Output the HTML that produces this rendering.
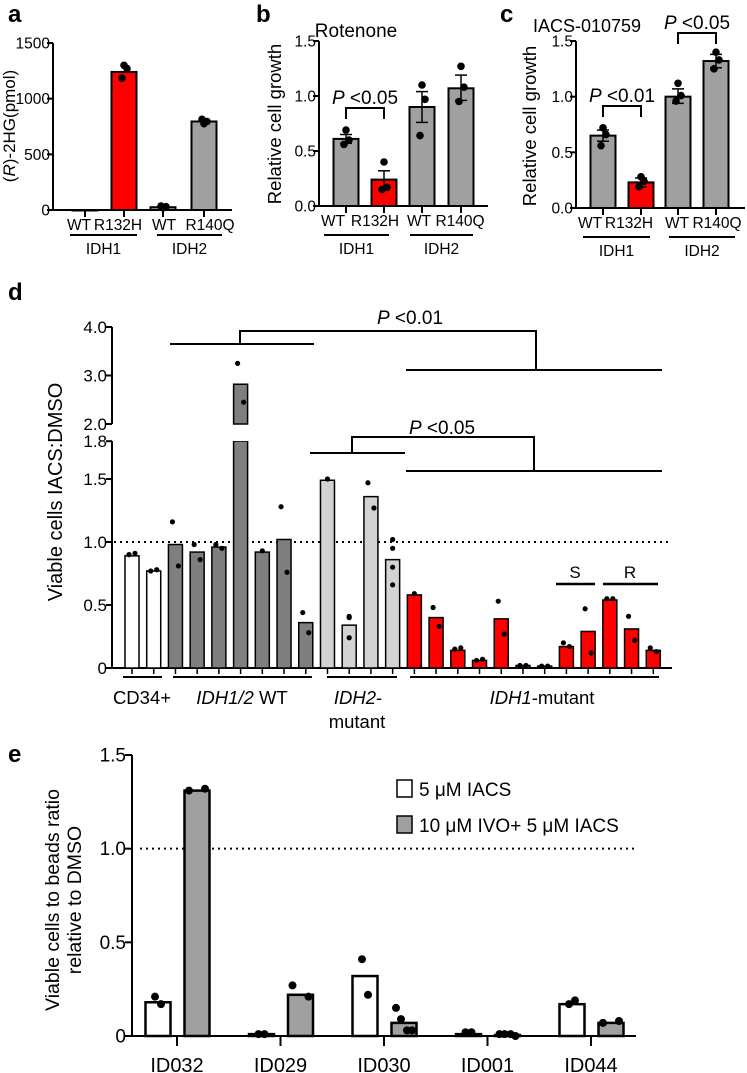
<!DOCTYPE html>
<html><head><meta charset="utf-8">
<style>
html,body{margin:0;padding:0;background:#fff;}
svg{display:block;}
text{font-family:"Liberation Sans",sans-serif;fill:#000;}
</style></head>
<body>
<svg id="fig" width="747" height="1073" viewBox="0 0 747 1073" xmlns="http://www.w3.org/2000/svg">
<text x="8" y="22" style="font-size:24px;font-weight:bold">a</text>
<text x="256" y="22" style="font-size:24px;font-weight:bold">b</text>
<text x="500" y="22" style="font-size:24px;font-weight:bold">c</text>
<text x="8" y="300" style="font-size:24px;font-weight:bold">d</text>
<text x="8" y="762" style="font-size:24px;font-weight:bold">e</text>
</svg>
<script>
// ---------- Panel a ----------
const aCats = ["WT","R132H","WT","R140Q"];
const aValues = [0, 1240, 25, 795];
const aDots = [[], [1300, 1270, 1185], [20, 30, 35], [775, 795, 815]];
const aTicks = [0, 500, 1000, 1500];
// ---------- Panel b ----------
const bCats = ["WT","R132H","WT","R140Q"];
const bValues = [0.61, 0.24, 0.90, 1.07];
const bErrLo = [0.57, 0.15, 0.76, 0.96];
const bErrHi = [0.65, 0.32, 1.04, 1.19];
const bDots = [[0.69, 0.60, 0.56], [0.40, 0.17, 0.15], [1.10, 0.97, 0.64], [1.27, 1.08, 0.95]];
const bTicks = [0.0, 0.5, 1.0, 1.5];
// ---------- Panel c ----------
const cCats = ["WT","R132H","WT","R140Q"];
const cValues = [0.65, 0.23, 1.00, 1.32];
const cErrLo = [0.60, 0.19, 0.94, 1.26];
const cErrHi = [0.70, 0.27, 1.07, 1.38];
const cDots = [[0.72, 0.66, 0.56], [0.28, 0.24, 0.19], [1.12, 1.01, 0.96], [1.40, 1.33, 1.25]];
const cTicks = [0.0, 0.5, 1.0, 1.5];
// ---------- Panel d ----------
const dGroups = ["cd34","cd34","wt","wt","wt","wt","wt","wt","wt","idh2","idh2","idh2","idh2",
  "idh1","idh1","idh1","idh1","idh1","idh1","idh1","idh1","idh1","idh1","idh1","idh1"];
const dValues = [0.89,0.77,0.98,0.92,0.96,2.82,0.92,1.02,0.36,1.49,0.34,1.36,0.86,
  0.58,0.40,0.14,0.06,0.39,0.02,0.015,0.17,0.29,0.54,0.31,0.14];
const dDots = [[0.90,0.91],[0.77,0.78],[1.16,0.81],[0.98,0.86],[0.98,0.95],[3.25,2.45],[0.93],[1.28,0.76],[0.44,0.28],
  [1.50],[0.41,0.40,0.24],[1.47,1.27],[1.02,0.95,0.80,0.66],
  [0.59],[0.48,0.33],[0.15,0.16],[0.06,0.07],[0.53,0.27],[0.02,0.02],[0.015,0.015],[0.20,0.17],[0.47,0.12],[0.55,0.55],[0.41,0.22],[0.16,0.13]];
const dTicksLow = [0, 0.5, 1.0, 1.5, 1.8];
const dTickLowLabels = ["0","0.5","1.0","1.5","1.8"];
const dTicksHigh = [2.0, 3.0, 4.0];
const dTickHighLabels = ["2.0","3.0","4.0"];
// ---------- Panel e ----------
const eCats = ["ID032","ID029","ID030","ID001","ID044"];
const eIacs = [0.18, 0.01, 0.32, 0.01, 0.17];
const eCombo = [1.31, 0.22, 0.07, 0.005, 0.07];
const eIacsDots = [[0.21,0.17],[0.01,0.01],[0.41,0.22],[0.02,0.02],[0.17,0.19]];
const eComboDots = [[1.31,1.32],[0.27,0.21],[0.15,0.09,0.03,0.03],[0.01,0.01,0.01,0.0],[0.07,0.08]];
const eTicks = [0, 0.5, 1.0, 1.5];
const eTickLabels = ["0","0.5","1.0","1.5"];

const NS = "http://www.w3.org/2000/svg";
const svg = document.getElementById('fig');
function mk(tag, attrs){
  const e = document.createElementNS(NS, tag);
  for (const k in attrs) e.setAttribute(k, attrs[k]);
  svg.appendChild(e);
  return e;
}
function line(x1,y1,x2,y2,w,dash){
  const a = {x1:x1,y1:y1,x2:x2,y2:y2,stroke:'#000','stroke-width':w||2};
  if (dash) a['stroke-dasharray'] = dash;
  return mk('line', a);
}
function txt(x,y,s,size,anchor){
  const t = mk('text',{x:x,y:y,'text-anchor':anchor||'middle',style:'font-size:'+size+'px'});
  t.textContent = s;
  return t;
}
function rtxt(x,y,html,size){
  const t = mk('text',{x:0,y:0,'text-anchor':'middle',style:'font-size:'+size+'px',transform:`translate(${x},${y}) rotate(-90)`});
  t.innerHTML = html;
  return t;
}

function smallPanel(name, cats, vals, dots, ticks, tickFmt, ax, y0, ytop, vmax, centers, labelOff, colors, eLo, eHi, xEnd){
  const ys = v => y0 - v / vmax * (y0 - ytop);
  let e = line(ax, ytop, ax, y0+1);
  
  
  e = line(ax, y0, xEnd, y0);
  
  
  ticks.forEach(t => {
    const l = line(ax-6, ys(t), ax, ys(t));
    
    
    const tt = txt(ax-3, ys(t)+5.5, tickFmt(t), 15.5, 'end');
    
    
  });
  vals.forEach((v,i) => {
    const cx = centers[i];
    const h = Math.max(y0 - ys(v), 0.5);
    const r = mk('rect',{x:cx-12.5,y:ys(v),width:25,height:h,fill:colors[i],stroke:'#000','stroke-width':2});
    
    
    const tk = line(cx, y0, cx, y0+7);
    
    
    const lb = txt(cx+labelOff[i], y0+20, cats[i], 15.5);
    
    
    if (eLo) {
      const eb = line(cx, ys(eLo[i]), cx, ys(eHi[i]), 1.5);
      
      
      [eLo[i], eHi[i]].forEach(q => {
        const c = line(cx-6, ys(q), cx+6, ys(q), 1.5);
        
        
      });
    }
    dots[i].forEach((d,j) => {
      const off = dots[i].length === 3 ? [0,3,-2][j] : [-4,4][j] || 0;
      const p = mk('circle',{cx:cx+off,cy:ys(d),r:3.8,fill:'#000'});
      
      
    });
  });
  return ys;
}
function groupLabels(name, x1a, x2a, x1b, x2b, yl, yt){
  let e = line(x1a, yl, x2a, yl, 2);
  
  
  e = line(x1b, yl, x2b, yl, 2);
  
  
  e = txt((x1a+x2a)/2, yt, 'IDH1', 15.5);
  
  
  e = txt((x1b+x2b)/2, yt, 'IDH2', 15.5);
  
  
}
function bracket(name, x1, x2, ytop, ybot, label, ty){
  const p = mk('path',{d:`M${x1},${ybot} V${ytop} H${x2} V${ybot}`,fill:'none',stroke:'#000','stroke-width':2});
  
  
  const t = mk('text',{x:(x1+x2)/2,y:ty,'text-anchor':'middle',style:'font-size:19px'});
  t.innerHTML = '<tspan font-style="italic">P</tspan> &lt;' + label;
  
  
}

// Panel a
smallPanel('panel-a', aCats, aValues, aDots, aTicks, t=>String(t), 53, 210, 43, 1500, [85,124,163,204], [-6,-6,1,6],
  ['#ffffff','#ff0000','#a0a0a0','#a0a0a0'], null, null, 232);
groupLabels('panel-a', 70, 137, 157, 222, 235, 254);
let yl = rtxt(15, 126, '(<tspan font-style="italic">R</tspan>)-2HG(pmol)', 17);



// Panel b
smallPanel('panel-b', bCats, bValues, bDots, bTicks, t=>t.toFixed(1), 319, 206, 41, 1.5, [346,384,422,461], [-13,-9,-3,-1],
  ['#a0a0a0','#ff0000','#a0a0a0','#a0a0a0'], bErrLo, bErrHi, 488);
groupLabels('panel-b', 324, 389, 410, 473, 235, 254);
bracket('panel-b', 346, 384, 108, 119, '0.05', 104);
yl = rtxt(281, 124, 'Relative cell growth', 18.5);


yl = txt(356, 37, 'Rotenone', 19);



// Panel c
smallPanel('panel-c', cCats, cValues, cDots, cTicks, t=>t.toFixed(1), 576, 208, 41, 1.5, [603,641,678,716], [-13,-12,-1,1],
  ['#a0a0a0','#ff0000','#a0a0a0','#a0a0a0'], cErrLo, cErrHi, 745);
groupLabels('panel-c', 583, 650, 669, 735, 237, 256);
bracket('panel-c', 603, 641, 106, 117, '0.01', 102);
bracket('panel-c', 678, 716, 33, 44, '0.05', 29);
yl = rtxt(536, 126, 'Relative cell growth', 18.5);


yl = txt(587, 32, 'IACS-010759', 18);



// Panel d
const dAx = 112, dY0 = 668, dBreakLo = 441, dBreakHi = 424;
const dLow = v => dY0 - v * 126;
const dHigh = v => dBreakHi - (v - 2) * 48.5;
const dY = v => v <= 1.8 ? dLow(v) : (v >= 2 ? dHigh(v) : dBreakLo);
const dX = i => 132 + i * 21.72;
const dFill = {cd34:'#ffffff', wt:'#7f7f7f', idh2:'#d3d3d3', idh1:'#ff0000'};
let e = line(dAx, dBreakLo, dAx, dY0+1);


e = line(dAx, dHigh(4), dAx, dBreakHi);


e = line(dAx, dY0, 672, dY0);


dTicksLow.forEach((t,i) => {
  const l = line(dAx-6, dLow(t), dAx, dLow(t));
  
  
  const tt = txt(dAx-5, dLow(t)+6, dTickLowLabels[i], 17, 'end');
  
  
});
dTicksHigh.forEach((t,i) => {
  const l = line(dAx-6, dHigh(t), dAx, dHigh(t));
  
  
  const tt = txt(dAx-5, dHigh(t)+6, dTickHighLabels[i], 17, 'end');
  
  
});
e = line(dAx+2, dLow(1), 672, dLow(1), 2, '2 4');


dValues.forEach((v,i) => {
  const cx = dX(i), f = dFill[dGroups[i]];
  if (v > 1.8) {
    let r = mk('rect',{x:cx-7,y:dBreakLo,width:14,height:dY0-dBreakLo,fill:f,stroke:'#000','stroke-width':1.5});
    
    
    r = mk('rect',{x:cx-7,y:dY(v),width:14,height:dBreakHi-dY(v),fill:f,stroke:'#000','stroke-width':1.5});
    
    
    const gap = mk('rect',{x:cx-9,y:dBreakHi+1,width:18,height:dBreakLo-dBreakHi-1,fill:'#fff'});
    
    
  } else {
    const r = mk('rect',{x:cx-7,y:dY(v),width:14,height:Math.max(dY0-dY(v),0.5),fill:f,stroke:'#000','stroke-width':1.5});
    
    
  }
  const tk = line(cx, dY0, cx, dY0+6, 1.5);
  
  
  dDots[i].forEach((d,j) => {
    const off = dDots[i].length === 2 ? [-3,3][j] : 0;
    const p = mk('circle',{cx:cx+off,cy:dY(d),r:2.6,fill:'#000'});
    
    
  });
});
e = line(123, 677, 162, 677, 2);  
e = line(173, 677, 312, 677, 2);  
e = line(327, 677, 397, 677, 2);  
e = line(410, 677, 659, 677, 2);  
e = txt(142, 704, 'CD34+', 18.5);  
e = mk('text',{x:242,y:704,'text-anchor':'middle',style:'font-size:18.5px'}); e.innerHTML = '<tspan font-style="italic">IDH1/2</tspan> WT';
 
e = mk('text',{x:358,y:704,'text-anchor':'middle',style:'font-size:18.5px'}); e.innerHTML = '<tspan font-style="italic">IDH2</tspan>-';
 
e = txt(357, 728, 'mutant', 18.5);  
e = mk('text',{x:542,y:704,'text-anchor':'middle',style:'font-size:18.5px'}); e.innerHTML = '<tspan font-style="italic">IDH1</tspan>-mutant';
 
e = line(556, 584, 595, 584, 2.5);  
e = line(603, 584, 658, 584, 2.5);  
e = txt(575, 578, 'S', 17);  
e = txt(630, 578, 'R', 17);  
e = mk('path',{d:'M170,344 H314 M240,344 V331 H536 V370 M406,370 H662',fill:'none',stroke:'#000','stroke-width':2});
 
e = mk('text',{x:410,y:324,'text-anchor':'middle',style:'font-size:19px'}); e.innerHTML = '<tspan font-style="italic">P</tspan> &lt;0.01';
 
e = mk('path',{d:'M310,453 H405 M352,453 V437 H534 V471 M406,471 H662',fill:'none',stroke:'#000','stroke-width':2});
 
e = mk('text',{x:442,y:434,'text-anchor':'middle',style:'font-size:19px'}); e.innerHTML = '<tspan font-style="italic">P</tspan> &lt;0.05';
 
e = rtxt(62, 492, 'Viable cells IACS:DMSO', 20);
 

// Panel e
const eAx = 132, eY0 = 1036;
const eY = v => eY0 - v / 1.5 * (eY0 - 755);
const eX = i => 177 + i * 103.5;
e = line(eAx, 755, eAx, eY0+1);
 
e = line(eAx, eY0, 636, eY0);
 
eTicks.forEach((t,i) => {
  const l = line(eAx-7, eY(t), eAx, eY(t));
  
  
  const tt = txt(eAx-6, eY(t)+6.5, eTickLabels[i], 19, 'end');
  
  
});
e = line(140, eY(1), 636, eY(1), 2, '2 4');
 
eCats.forEach((c,i) => {
  const t0 = eX(i);
  const ca = t0 - 19, cb = t0 + 20;
  let r = mk('rect',{x:ca-12.5,y:eY(eIacs[i]),width:25,height:Math.max(eY0-eY(eIacs[i]),0.5),fill:'#ffffff',stroke:'#000','stroke-width':2.5});
  
  
  r = mk('rect',{x:cb-12.5,y:eY(eCombo[i]),width:25,height:Math.max(eY0-eY(eCombo[i]),0.5),fill:'#a0a0a0',stroke:'#000','stroke-width':2.5});
  
  
  eIacsDots[i].forEach((d,j) => {
    const off = eIacsDots[i].length === 2 ? [-6,6][j] : 0;
    const p = mk('circle',{cx:ca+off*0.5,cy:eY(d),r:4,fill:'#000'});
    
    
  });
  eComboDots[i].forEach((d,j) => {
    const n = eComboDots[i].length;
    const off = n === 2 ? [-8,8][j] : [-8,-3,3,8][j];
    const p = mk('circle',{cx:cb+off,cy:eY(d),r:4,fill:'#000'});
    
    
  });
  const tk = line(t0, eY0, t0, eY0+10);
  
  
  const lb = txt(t0, 1072, c, 20);
  
  
});
e = mk('rect',{x:397,y:780,width:15,height:17,fill:'#fff',stroke:'#000','stroke-width':1.5});
 
e = txt(419, 796, '5 μM IACS', 19, 'start');
 
e = mk('rect',{x:397,y:816,width:15,height:17,fill:'#a0a0a0',stroke:'#000','stroke-width':1.5});
 
e = txt(419, 832, '10 μM IVO+ 5 μM IACS', 19, 'start');
 
e = rtxt(59, 900, 'Viable cells to beads ratio', 19.5);
 
e = rtxt(81, 900, 'relative to DMSO', 19.5);
 
</script>
</body></html>
